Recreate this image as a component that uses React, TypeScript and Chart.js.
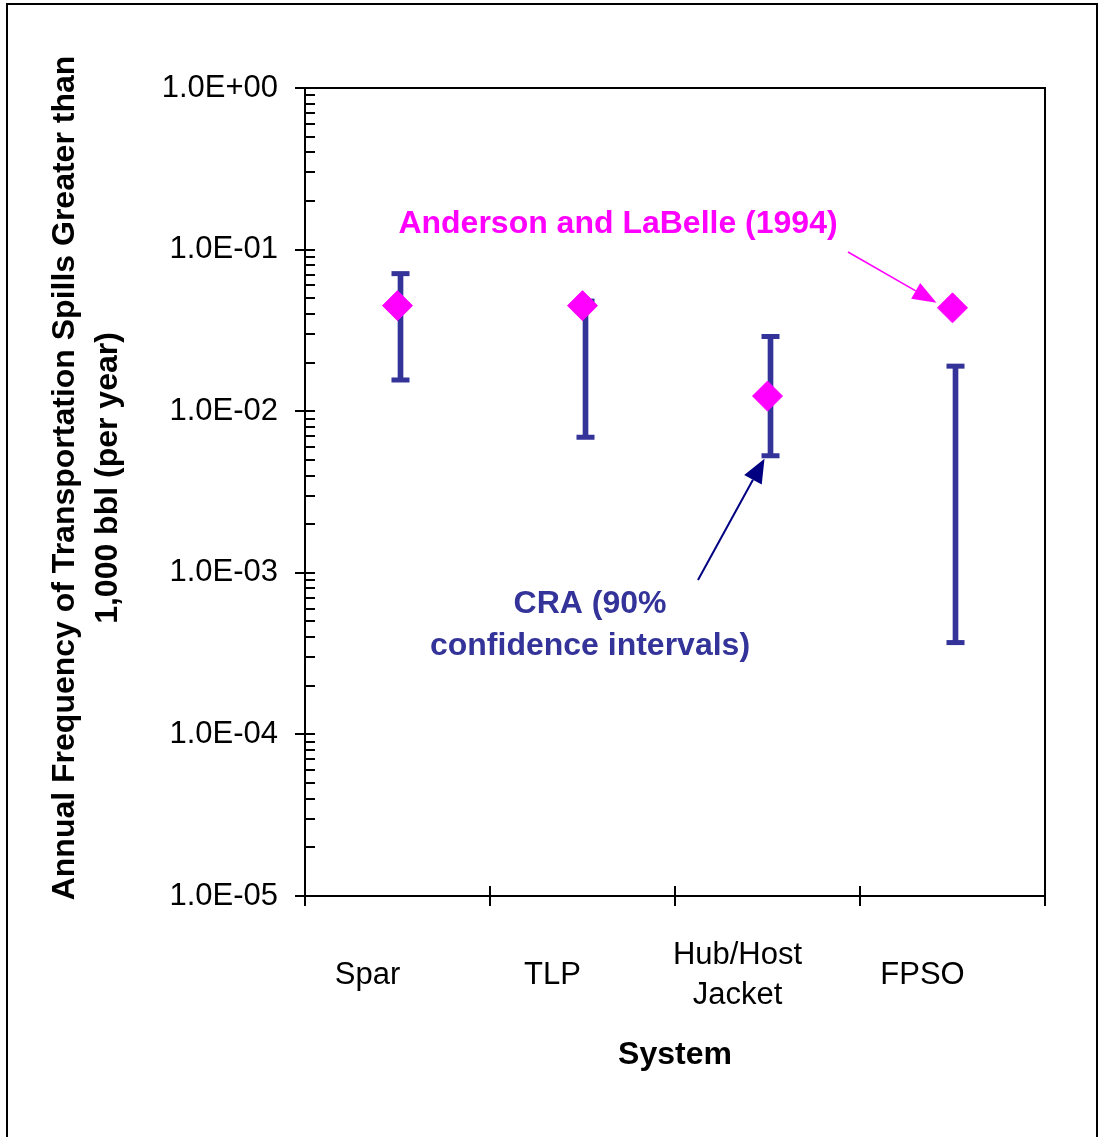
import React, { useEffect, useRef } from 'react';
import { Chart, registerables } from 'chart.js';

Chart.register(...registerables);

// Offshore systems compared
const categories: (string | string[])[] = ['Spar', 'TLP', ['Hub/Host', 'Jacket'], 'FPSO'];
// Anderson and LaBelle (1994) point estimates (spills per year)
const andersonLaBelle = [0.045, 0.045, 0.0124, 0.0436];
// CRA 90% confidence interval bounds (spills per year)
const craLow = [0.0156, 0.0069, 0.0053, 0.00037];
const craHigh = [0.071, 0.048, 0.029, 0.019];
// Decade ticks on the log axis
const yTickValues = [1, 0.1, 0.01, 0.001, 0.0001, 0.00001];
const yTickLabels = ['1.0E+00', '1.0E-01', '1.0E-02', '1.0E-03', '1.0E-04', '1.0E-05'];
const yTitleLines = ['Annual Frequency of Transportation Spills Greater than', '1,000 bbl (per year)'];
const xTitle = 'System';
const sourceLabel = 'Anderson and LaBelle (1994)';
const craLabelLines = ['CRA (90%', 'confidence intervals)'];

const FONT = '"Liberation Sans", Arial, sans-serif';
const CRA_COLOR = '#333399';
const AL_COLOR = '#FF00FF';
const ARROW_NAVY = '#000080';

function drawArrow(
  ctx: CanvasRenderingContext2D,
  x1: number, y1: number, x2: number, y2: number,
  color: string, lw: number, headLen: number, headHalf: number
) {
  const ang = Math.atan2(y2 - y1, x2 - x1);
  const bx = x2 - Math.cos(ang) * headLen;
  const by = y2 - Math.sin(ang) * headLen;
  ctx.strokeStyle = color;
  ctx.fillStyle = color;
  ctx.lineWidth = lw;
  ctx.beginPath();
  ctx.moveTo(x1, y1);
  ctx.lineTo(bx, by);
  ctx.stroke();
  ctx.beginPath();
  ctx.moveTo(x2, y2);
  ctx.lineTo(bx + Math.sin(ang) * headHalf, by - Math.cos(ang) * headHalf);
  ctx.lineTo(bx - Math.sin(ang) * headHalf, by + Math.cos(ang) * headHalf);
  ctx.closePath();
  ctx.fill();
}

// Interval series sit a few pixels right of the point estimates
const intervalShift = {
  id: 'intervalShift',
  beforeDatasetDraw(chart: any, args: any) {
    if (chart.data.datasets[args.index].isInterval) {
      chart.ctx.save();
      chart.ctx.translate(3, 0);
    }
  },
  afterDatasetDraw(chart: any, args: any) {
    if (chart.data.datasets[args.index].isInterval) chart.ctx.restore();
  },
};

const decorPlugin = {
  id: 'decor',
  afterDraw(chart: any) {
    const { ctx, chartArea: a, scales } = chart;
    const xs = scales.x;
    const ys = scales.y;
    ctx.save();

    // outer figure frame
    ctx.strokeStyle = '#000';
    ctx.lineWidth = 2;
    ctx.strokeRect(7, 4, 1090, 1150);

    // plot area frame
    ctx.strokeRect(a.left, a.top, a.right - a.left, a.bottom - a.top);

    // y axis: major ticks cross the axis, minor ticks point inward
    ctx.lineWidth = 2;
    ctx.beginPath();
    yTickValues.forEach((v) => {
      const py = Math.round(ys.getPixelForValue(v));
      ctx.moveTo(a.left - 10, py);
      ctx.lineTo(a.left + 10, py);
    });
    yTickValues.slice(1).forEach((d) => {
      for (let m = 2; m <= 9; m++) {
        const py = Math.round(ys.getPixelForValue(d * m));
        ctx.moveTo(a.left, py);
        ctx.lineTo(a.left + 10, py);
      }
    });
    // x axis: ticks at category boundaries
    const n = categories.length;
    for (let i = 0; i <= n; i++) {
      const px = Math.round(xs.getPixelForValue(i - 0.5));
      const inner = i > 0 && i < n;
      ctx.moveTo(px, a.bottom - (inner ? 10 : 0));
      ctx.lineTo(px, a.bottom + 10);
    }
    ctx.stroke();

    // y axis title, two rotated lines
    ctx.fillStyle = '#000';
    ctx.font = `bold 32px ${FONT}`;
    ctx.textAlign = 'center';
    ctx.textBaseline = 'middle';
    const cy = (a.top + a.bottom) / 2 - 14;
    ctx.save();
    ctx.translate(65, cy);
    ctx.rotate(-Math.PI / 2);
    yTitleLines.forEach((line, i) => ctx.fillText(line, 0, i * 43));
    ctx.restore();

    // source annotation and arrow to the FPSO estimate
    ctx.fillStyle = AL_COLOR;
    ctx.fillText(sourceLabel, 618, 224);
    const fx = xs.getPixelForValue(3);
    const fy = ys.getPixelForValue(andersonLaBelle[3]);
    drawArrow(ctx, 848, 252, fx - 16, fy - 5, AL_COLOR, 1.6, 24, 9);

    // CRA annotation and arrow to the Hub/Host Jacket interval
    ctx.fillStyle = CRA_COLOR;
    craLabelLines.forEach((line, i) => ctx.fillText(line, 590, 604 + i * 42));
    const hx = xs.getPixelForValue(2);
    const hy = ys.getPixelForValue(craLow[2]);
    drawArrow(ctx, 698, 580, hx - 3, hy + 3, ARROW_NAVY, 2, 24, 10);

    ctx.restore();
  },
};

export default function App() {
  const canvasRef = useRef<HTMLCanvasElement | null>(null);

  useEffect(() => {
    const canvas = canvasRef.current;
    if (!canvas) return;
    const chart = new Chart(canvas, {
      type: 'bar',
      data: {
        labels: categories as any,
        datasets: [
          {
            type: 'line',
            label: 'Anderson and LaBelle (1994)',
            data: andersonLaBelle,
            showLine: false,
            pointStyle: 'rectRot',
            pointRadius: 15,
            pointBackgroundColor: AL_COLOR,
            pointBorderColor: AL_COLOR,
            pointBorderWidth: 1,
            order: 0,
          },
          {
            type: 'line',
            label: 'CRA upper',
            data: craHigh,
            showLine: false,
            pointStyle: 'line',
            pointRadius: 9,
            pointBorderColor: CRA_COLOR,
            pointBorderWidth: 5,
            order: 1,
            isInterval: true,
          } as any,
          {
            type: 'line',
            label: 'CRA lower',
            data: craLow,
            showLine: false,
            pointStyle: 'line',
            pointRadius: 9,
            pointBorderColor: CRA_COLOR,
            pointBorderWidth: 5,
            order: 1,
            isInterval: true,
          } as any,
          {
            type: 'bar',
            label: 'CRA (90% confidence intervals)',
            data: craLow.map((lo, i) => [lo, craHigh[i]]) as any,
            backgroundColor: CRA_COLOR,
            barThickness: 5,
            order: 2,
            isInterval: true,
          } as any,
        ],
      },
      options: {
        animation: false,
        responsive: false,
        devicePixelRatio: 1,
        layout: { padding: { top: 88, right: 54, left: 0, bottom: 0 } },
        plugins: {
          legend: { display: false },
          tooltip: { enabled: false },
          title: { display: false },
        },
        scales: {
          x: {
            type: 'category',
            offset: true,
            grid: { display: false, drawTicks: false },
            border: { display: false },
            ticks: {
              autoSkip: false,
              maxRotation: 0,
              minRotation: 0,
              crossAlign: 'center',
              padding: 59,
              labelOffset: -30,
              color: '#000',
              font: { family: FONT, size: 31, lineHeight: 1.29 },
            },
            title: {
              display: true,
              text: xTitle,
              color: '#000',
              font: { family: FONT, size: 32, weight: 'bold', lineHeight: 1.2 },
              padding: { top: 0, bottom: 63 },
            },
            afterFit: (scale: any) => {
              scale.height = 241;
            },
          },
          y: {
            type: 'logarithmic',
            min: 0.00001,
            max: 1,
            grid: { display: false, drawTicks: false },
            border: { display: false },
            afterBuildTicks: (scale: any) => {
              scale.ticks = yTickValues.map((v) => ({ value: v, major: true }));
            },
            ticks: {
              autoSkip: false,
              padding: 27,
              color: '#000',
              font: { family: FONT, size: 31 },
              callback: (value: any) => {
                const idx = yTickValues.findIndex((v) => Math.abs(v - Number(value)) / v < 1e-6);
                return idx >= 0 ? yTickLabels[idx] : '';
              },
            },
            afterFit: (scale: any) => {
              scale.width = 305;
            },
          },
        },
      },
      plugins: [intervalShift, decorPlugin],
    });
    return () => chart.destroy();
  }, []);

  return (
    <div style={{ position: 'fixed', left: 0, top: 0, width: 1099, height: 1137, background: '#fff' }}>
      <canvas ref={canvasRef} width={1099} height={1137} style={{ display: 'block', width: 1099, height: 1137 }} />
    </div>
  );
}
